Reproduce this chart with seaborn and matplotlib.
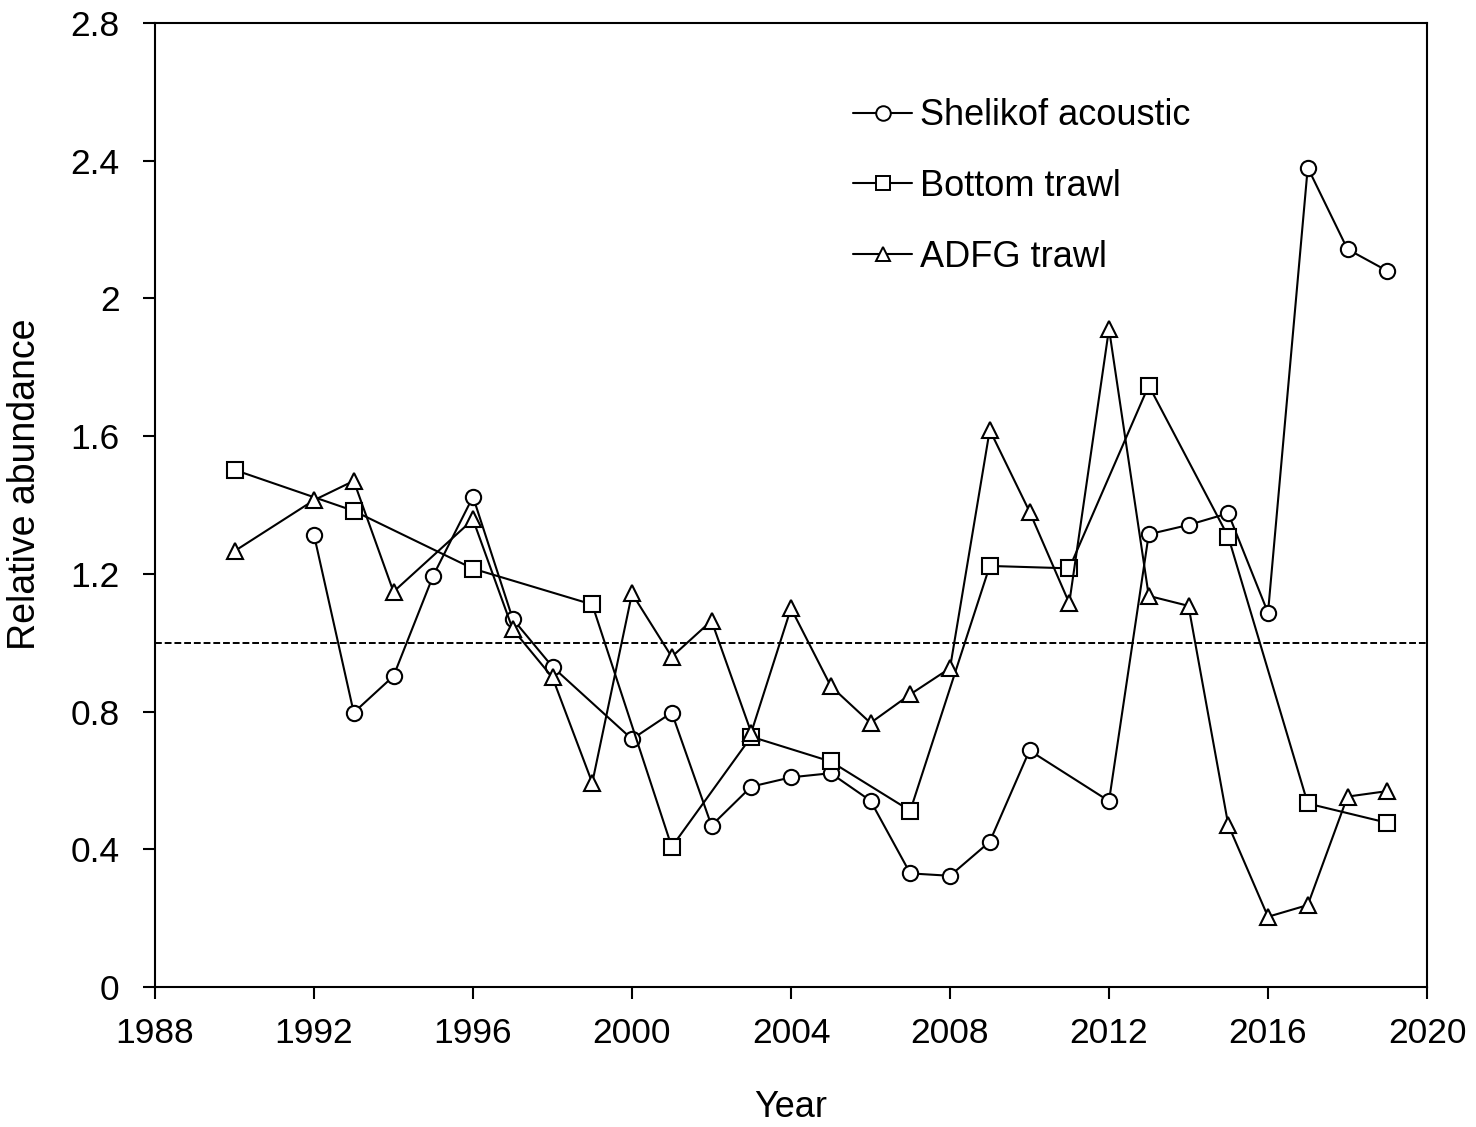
import matplotlib
matplotlib.use("Agg")
import matplotlib.pyplot as plt
from matplotlib.lines import Line2D
import seaborn as sns
import pandas as pd

# ---- data ----
shelikof_years = [1992, 1993, 1994, 1995, 1996, 1997, 1998, 2000, 2001, 2002, 2003, 2004,
                  2005, 2006, 2007, 2008, 2009, 2010, 2012, 2013, 2014, 2015, 2016, 2017,
                  2018, 2019]
shelikof_vals = [1.313, 0.797, 0.903, 1.195, 1.424, 1.069, 0.930, 0.720, 0.797, 0.469, 0.582,
                 0.609, 0.621, 0.541, 0.330, 0.323, 0.422, 0.687, 0.540, 1.315, 1.342, 1.376,
                 1.087, 2.380, 2.143, 2.080]

bottom_years = [1990, 1993, 1996, 1999, 2001, 2003, 2005, 2007, 2009, 2011, 2013, 2015, 2017, 2019]
bottom_vals = [1.502, 1.383, 1.215, 1.111, 0.407, 0.727, 0.655, 0.512, 1.223, 1.216, 1.747,
               1.308, 0.533, 0.477]

adfg_years = [1990, 1992, 1993, 1994, 1996, 1997, 1998, 1999, 2000, 2001, 2002, 2003, 2004,
              2005, 2006, 2007, 2008, 2009, 2010, 2011, 2012, 2013, 2014, 2015, 2016, 2017,
              2018, 2019]
adfg_vals = [1.266, 1.414, 1.470, 1.148, 1.358, 1.039, 0.899, 0.593, 1.143, 0.959, 1.064,
             0.739, 1.100, 0.874, 0.767, 0.850, 0.926, 1.618, 1.381, 1.115, 1.912, 1.136,
             1.107, 0.471, 0.204, 0.238, 0.553, 0.569]

series_names = ["Shelikof acoustic", "Bottom trawl", "ADFG trawl"]
series_markers = ["o", "s", "^"]
x_ticks = [1988, 1992, 1996, 2000, 2004, 2008, 2012, 2016, 2020]
y_ticks = [0, 0.4, 0.8, 1.2, 1.6, 2, 2.4, 2.8]
y_tick_labels = ["0", "0.4", "0.8", "1.2", "1.6", "2", "2.4", "2.8"]
reference_level = 1.0

# ---- style ----
sns.set_theme(style="ticks")
plt.rcParams["font.family"] = ["Liberation Sans", "DejaVu Sans"]
plt.rcParams["text.color"] = "black"
plt.rcParams["axes.labelcolor"] = "black"
plt.rcParams["xtick.color"] = "black"
plt.rcParams["ytick.color"] = "black"

fig = plt.figure(figsize=(14.76, 11.27), dpi=100)
ax = fig.add_axes([155 / 1476, 1 - 987 / 1127, (1427 - 155) / 1476, (987 - 23) / 1127])

data = [
    pd.DataFrame({"Year": shelikof_years, "Value": shelikof_vals}),
    pd.DataFrame({"Year": bottom_years, "Value": bottom_vals}),
    pd.DataFrame({"Year": adfg_years, "Value": adfg_vals}),
]

MS = 11
for df, name, mk in zip(data, series_names, series_markers):
    sns.lineplot(data=df, x="Year", y="Value", ax=ax, color="black", linewidth=1.5,
                 marker=mk, markersize=MS, markerfacecolor="white",
                 markeredgecolor="black", markeredgewidth=1.5, legend=False, zorder=3)

ax.axhline(reference_level, color="black", linewidth=1.4, dashes=(3.5, 1.5), zorder=2)

ax.set_xlim(1988, 2020)
ax.set_ylim(0, 2.8)
ax.set_xticks(x_ticks)
ax.set_xticklabels([str(t) for t in x_ticks])
ax.set_yticks(y_ticks)
ax.set_yticklabels(y_tick_labels)

for side in ["left", "bottom", "right", "top"]:
    ax.spines[side].set_visible(True)
    ax.spines[side].set_linewidth(1.5)
    ax.spines[side].set_color("black")

ax.tick_params(axis="both", direction="out", length=8.5, width=1.5, color="black",
               labelsize=25.5, labelcolor="black")
ax.tick_params(axis="y", pad=17)
ax.tick_params(axis="x", pad=13)
ax.tick_params(top=False, right=False)

ax.set_xlabel("Year", fontsize=26, color="black")
ax.set_ylabel("Relative abundance", fontsize=27, color="black")
ax.xaxis.set_label_coords(0.5, -0.107)
ax.yaxis.set_label_coords(-0.088, 0.522)

handles = [Line2D([0], [0], color="black", linewidth=1.5, marker=mk, markersize=MS - 0.5,
                  markerfacecolor="white", markeredgecolor="black", markeredgewidth=1.4)
           for mk in series_markers]
leg = ax.legend(handles, series_names, loc="upper left", bbox_to_anchor=(0.5376, 0.937),
                frameon=False, fontsize=26, handlelength=1.63, handletextpad=0.22,
                labelspacing=0.99, borderaxespad=0)
for t in leg.get_texts():
    t.set_color("black")

ax.set_facecolor("white")
fig.patch.set_facecolor("white")
fig.savefig("out.png", dpi=100, facecolor="white")
